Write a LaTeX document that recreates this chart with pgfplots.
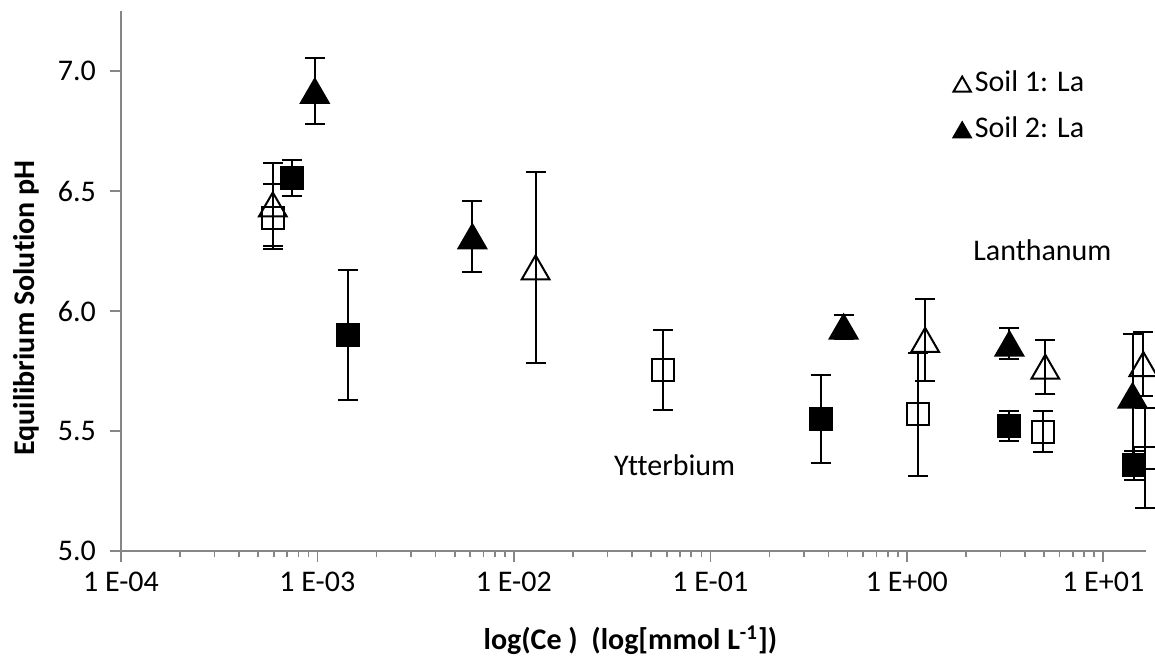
\documentclass[border=0pt]{standalone}
\usepackage{pgfplots}
\pgfplotsset{compat=1.18}
\usepackage{fontspec}
\setmainfont[Ligatures=NoCommon]{Carlito}

\definecolor{axisgray}{RGB}{134,134,134}
\newcommand{\chartfont}{\fontsize{15pt}{18pt}\selectfont}

\begin{document}
\begin{tikzpicture}
\begin{axis}[
    scale only axis,
    width=512.5pt, height=270pt,
    xmode=log,
    xmin=1e-4, xmax=16.5,
    ymin=5, ymax=7.25,
    clip=false,
    axis lines*=left,
    axis line style={axisgray, line width=0.8pt},
    every tick/.style={axisgray, line width=0.8pt},
    tick align=outside,
    major tick length=5.5pt,
    minor tick length=3pt,
    xtick={1e-4,1e-3,1e-2,1e-1,1,10},
    xticklabels={1 E-04,1 E-03,1 E-02,1 E-01,1 E+00,1 E+01},
    ytick={5,5.5,6,6.5,7},
    yminorticks=false,
    /pgf/number format/assume math mode=true,
    tick label style={font=\chartfont, black},
    xticklabel style={yshift=-1.5pt},
    yticklabel style={xshift=-3.5pt, /pgf/number format/.cd, fixed, fixed zerofill, precision=1},
    xlabel={\textbf{log(Ce )\ \ (log[mmol L\textsuperscript{-1}])}},
    ylabel={\textbf{Equilibrium Solution pH}},
    label style={font=\chartfont},
    xlabel style={at={(axis description cs:0.497,-0.165)}, anchor=center},
    ylabel style={at={(axis description cs:-0.092,0.45)}, anchor=center},
    legend style={draw=none, fill=none, font=\chartfont,
        at={(rel axis cs:0.806,0.905)}, anchor=north west, row sep=7pt},
    legend cell align=left,
    legend image code/.code={\draw[#1, mark size=5pt] plot coordinates {(0.3cm,0cm)};},
    error bars/y dir=both,
    error bars/y explicit,
    error bars/error bar style={black, line width=1pt},
    error bars/error mark options={rotate=90, mark size=5pt, line width=1pt, black},
]

% Soil 1: La (open triangles)
\addplot[only marks, mark=triangle, mark size=8pt, black, line width=1pt,
    mark options={fill=none, yshift=-2pt}]
coordinates {
    (5.93e-4,6.444) += (0,0.085) -= (0,0.173)
    (0.0129,6.182) +- (0,0.397)
    (1.24,5.880) +- (0,0.170)
    (5.07,5.768) +- (0,0.113)
    (16.0,5.779) +- (0,0.132)
};
\addlegendentry{Soil 1: La}

% Soil 2: La (filled triangles)
\addplot[only marks, mark=triangle*, mark size=8pt, black, line width=1pt,
    mark options={fill=black, yshift=-2pt}]
coordinates {
    (9.7e-4,6.917) +- (0,0.139)
    (6.15e-3,6.311) +- (0,0.147)
    (0.477,5.935) +- (0,0.050)
    (3.33,5.864) +- (0,0.064)
    (14.1,5.648) +- (0,0.255)
};
\addlegendentry{Soil 2: La}

% Soil 1: Yb (open squares)
\addplot[forget plot, only marks, mark=square, mark size=5.5pt, black, line width=1pt,
    mark options={fill=none}]
coordinates {
    (5.93e-4,6.388) += (0,0.229) -= (0,0.130)
    (0.0573,5.754) +- (0,0.165)
    (1.14,5.570) +- (0,0.256)
    (4.92,5.498) +- (0,0.087)
    (16.3,5.388) +- (0,0.210)
};

% Soil 2: Yb (filled squares)
\addplot[forget plot, only marks, mark=square*, mark size=5.5pt, black, line width=1pt,
    mark options={fill=black}]
coordinates {
    (7.43e-4,6.556) +- (0,0.075)
    (1.43e-3,5.900) +- (0,0.270)
    (0.368,5.549) +- (0,0.183)
    (3.30,5.520) +- (0,0.063)
    (14.4,5.357) +- (0,0.060)
};

\node[font=\chartfont] at (axis cs:4.9,6.254) {Lanthanum};
\node[font=\chartfont] at (axis cs:0.0658,5.358) {Ytterbium};

\coordinate (bbsw) at (rel axis cs:-0.118,-0.198);
\coordinate (bbne) at (rel axis cs:1.0088,1.0204);
\end{axis}
\pgfresetboundingbox
\useasboundingbox (bbsw) rectangle (bbne);
\end{tikzpicture}
\end{document}
